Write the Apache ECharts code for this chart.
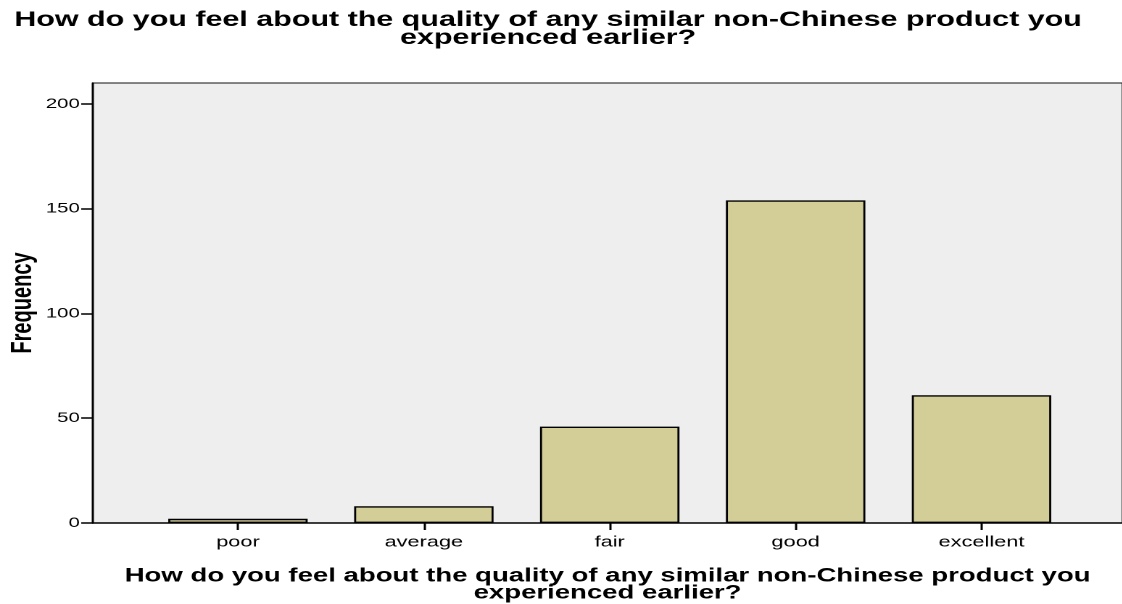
<!DOCTYPE html>
<html>
<head>
<meta charset="utf-8">
<title>Quality of similar non-Chinese product</title>
<script src="https://cdn.jsdelivr.net/npm/echarts@6/dist/echarts.min.js"></script>
<style>
  html, body { margin: 0; padding: 0; background: #fff; overflow: hidden; }
  /* the SPSS export is stretched sideways, so draw narrow and stretch the same way */
  #main { width: 774px; height: 604px; transform: scaleX(1.45); transform-origin: 0 0; }
</style>
</head>
<body>
<div id="main"></div>
<script>
var categories = ['poor', 'average', 'fair', 'good', 'excellent'];
var frequencies = [2, 8, 46, 154, 61];
var yTicks = [0, 50, 100, 150, 200];
var yMax = 210;
var question = 'How do you feel about the quality of any similar non-Chinese product you\nexperienced earlier?';

var font = "'Liberation Sans', Arial, sans-serif";
var chart = echarts.init(document.getElementById('main'), null, { devicePixelRatio: 2 });

var option = {
  animation: false,
  backgroundColor: '#fff',
  textStyle: { fontFamily: font },
  title: {
    text: question,
    left: 378,
    top: 11,
    padding: 0,
    textAlign: 'center',
    textStyle: { fontFamily: font, fontSize: 21, fontWeight: 'bold', lineHeight: 18, color: '#000' }
  },
  grid: [
    // frame + y axis
    { left: 64, right: 0, top: 83, bottom: 81, outerBoundsMode: 'none', show: true,
      backgroundColor: '#EEEEEE', borderColor: '#111', borderWidth: 1 },
    // bars sit in a narrower band, like SPSS pads the ends
    { left: 100, right: 33, top: 83, bottom: 81, outerBoundsMode: 'none' }
  ],
  xAxis: [
    {
      type: 'value', gridIndex: 0, min: 0, max: 1,
      axisLine: { show: true, lineStyle: { color: '#000', width: 1.5 } },
      axisTick: { show: false }, axisLabel: { show: false }, splitLine: { show: false },
      name: question, nameLocation: 'middle', nameGap: 45, nameMoveOverlap: false,
      nameTextStyle: { fontFamily: font, fontSize: 19, fontWeight: 'bold', lineHeight: 17, color: '#000' }
    },
    {
      type: 'category', gridIndex: 1, data: categories,
      axisLine: { show: false },
      axisTick: { show: true, alignWithLabel: true, length: 7, lineStyle: { color: '#000', width: 1.5 } },
      axisLabel: { margin: 12, fontSize: 15, color: '#000', fontFamily: font }
    }
  ],
  yAxis: [
    {
      type: 'value', gridIndex: 0, min: 0, max: yMax, interval: 50,
      axisLine: { show: true, lineStyle: { color: '#000', width: 1.5 } },
      axisTick: { show: true, length: 8, customValues: yTicks, lineStyle: { color: '#000', width: 1.5 } },
      axisLabel: { margin: 9, fontSize: 14, color: '#000', fontFamily: font, customValues: yTicks },
      splitLine: { show: false },
      name: 'Frequency', nameLocation: 'middle', nameGap: 38, nameMoveOverlap: false,
      nameTextStyle: { fontFamily: font, fontSize: 20, fontWeight: 'bold', color: '#000' }
    },
    { type: 'value', gridIndex: 1, min: 0, max: yMax, show: false }
  ],
  series: [{
    type: 'bar',
    xAxisIndex: 1,
    yAxisIndex: 1,
    data: frequencies,
    barWidth: '75%',
    itemStyle: { color: '#D3CE98', borderColor: '#000', borderWidth: 1.4 }
  }]
};

chart.setOption(option);
</script>
</body>
</html>
